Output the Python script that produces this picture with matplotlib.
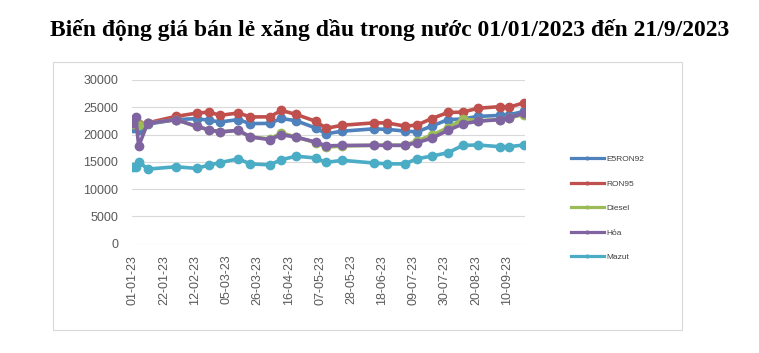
import matplotlib
matplotlib.use("Agg")
import matplotlib.pyplot as plt
import matplotlib.dates as mdates
from matplotlib.patches import Rectangle
from matplotlib.lines import Line2D
import datetime as dt

title = "Biến động giá bán lẻ xăng dầu trong nước 01/01/2023 đến 21/9/2023"

dates = ["2023-01-01", "2023-01-03", "2023-01-05", "2023-01-11", "2023-01-30",
         "2023-02-13", "2023-02-21", "2023-03-01", "2023-03-13", "2023-03-21",
         "2023-04-03", "2023-04-11", "2023-04-21", "2023-05-04", "2023-05-11",
         "2023-05-22", "2023-06-12", "2023-06-21", "2023-07-03", "2023-07-11",
         "2023-07-21", "2023-08-01", "2023-08-11", "2023-08-21", "2023-09-05",
         "2023-09-11", "2023-09-21"]

e5ron92 = [21130, 21430, 20830, 21900, 22740, 22920, 22620, 22320, 22740, 22010,
           22050, 22950, 22520, 21200, 20150, 20620, 21050, 20950, 20650, 20480,
           21550, 22740, 22860, 23330, 23510, 23630, 24230]
ron95 = [22020, 22500, 21900, 22140, 23330, 23930, 24110, 23530, 23960, 23230,
         23250, 24420, 23680, 22440, 21150, 21710, 22140, 22140, 21550, 21730,
         22920, 24050, 24110, 24820, 25120, 25000, 25830]
diesel = [22000, 22700, 21700, 22080, 22740, 21490, 20890, 20480, 20780, 19570,
          19200, 20280, 19550, 18500, 17700, 17900, 18050, 18050, 18050, 18830,
          19880, 21250, 22860, 22560, 22740, 23100, 23630]
hoa = [22140, 23210, 17890, 22080, 22740, 21490, 20890, 20480, 20780, 19570,
       19080, 19990, 19500, 18640, 17920, 18020, 18020, 18020, 18020, 18520,
       19320, 20770, 21960, 22440, 22740, 23040, 23930]
mazut = [13980, 13980, 15060, 13670, 14100, 13800, 14400, 14880, 15550, 14630,
         14450, 15400, 16040, 15700, 14900, 15280, 14790, 14630, 14630, 15560,
         16050, 16670, 18020, 18090, 17780, 17780, 18090]

series_names = ["E5RON92", "RON95", "Diesel", "Hỏa", "Mazut"]
series_values = [e5ron92, ron95, diesel, hoa, mazut]
colors = ["#4F81BD", "#C0504D", "#9BBB59", "#8064A2", "#4BACC6"]

yticks = [0, 5000, 10000, 15000, 20000, 25000, 30000]

x = [dt.datetime.strptime(d, "%Y-%m-%d") for d in dates]

W, H = 759, 353
fig = plt.figure(figsize=(W / 100, H / 100), dpi=100)
fig.patch.set_facecolor("white")

# chart border
fig.patches.append(Rectangle((53 / W, 1 - 330 / H), (682 - 53) / W, (330 - 62) / H,
                             transform=fig.transFigure, fill=False,
                             edgecolor="#D9D9D9", linewidth=0.8))

fig.text(390 / W, 1 - 30 / H, title, ha="center", va="center",
         fontsize=17, fontweight="bold", family="Liberation Serif", color="black")

ax = fig.add_axes([132 / W, 1 - 243.7 / H, (525 - 132) / W, (243.7 - 80) / H])
for name, vals, c in zip(series_names, series_values, colors):
    ax.plot(x, vals, color=c, linewidth=2.6, marker="o", markersize=6,
            label=name, solid_capstyle="round", zorder=3)

ax.set_ylim(0, 30000)
ax.set_yticks(yticks)
ax.set_xlim(dt.datetime(2023, 1, 1) - dt.timedelta(days=0.5), dt.datetime(2023, 9, 21) + dt.timedelta(days=0.8))
ticks = [dt.datetime(2023, 1, 1) + dt.timedelta(days=21 * i) for i in range(13)]
ax.set_xticks(ticks)
ax.xaxis.set_major_formatter(mdates.DateFormatter("%d-%m-%y"))
ax.grid(axis="y", color="#D9D9D9", linewidth=0.8, zorder=0)
ax.set_axisbelow(True)
for s in ax.spines.values():
    s.set_visible(False)
ax.tick_params(axis="both", length=0, colors="#595959", labelsize=9)
ax.tick_params(axis="y", pad=10)
ax.tick_params(axis="x", pad=8)
for lab in ax.get_xticklabels():
    lab.set_rotation(90)
    lab.set_family("Liberation Sans")
for lab in ax.get_yticklabels():
    lab.set_family("Liberation Sans")

handles = [Line2D([0], [0], color=c, linewidth=2.3, marker="o", markersize=2) for c in colors]
leg = fig.legend(handles, series_names, loc="upper left",
                 bbox_to_anchor=(563 / W, 1 - 148 / H), frameon=False,
                 prop={"family": "Liberation Sans", "size": 6}, labelspacing=2.0,
                 handlelength=4.0, handletextpad=0.3)
for t in leg.get_texts():
    t.set_color("#404040")

fig.savefig("out.png", dpi=100)
